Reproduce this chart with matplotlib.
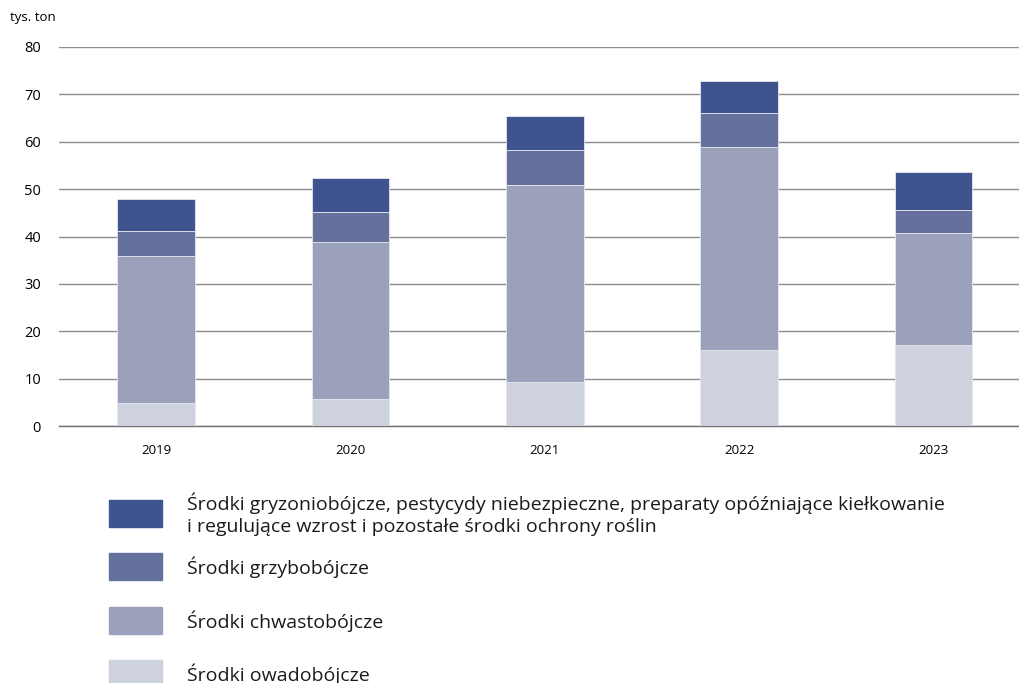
import numpy as np
import matplotlib.pyplot as plt
from matplotlib.patches import Rectangle

years = ['2019', '2020', '2021', '2022', '2023']
owadobojcze = [4.8, 5.8, 9.2, 16.0, 17.0]
chwastobojcze = [31.1, 33.1, 41.7, 42.9, 23.8]
grzybobojcze = [5.3, 6.3, 7.4, 7.1, 4.7]
pozostale = [6.7, 7.2, 7.2, 6.9, 8.2]

series = [owadobojcze, chwastobojcze, grzybobojcze, pozostale]
colors = ['#cdd2de', '#9ca1bb', '#65719c', '#3f548f']
labels = ['Środki owadobójcze',
          'Środki chwastobójcze',
          'Środki grzybobójcze',
          'Środki gryzoniobójcze, pestycydy niebezpieczne, preparaty opóźniające kiełkowanie\n'
          'i regulujące wzrost i pozostałe środki ochrony roślin']

W, H = 1019, 683
fig = plt.figure(figsize=(W / 100, H / 100), dpi=100)
ax = fig.add_axes([59 / W, 1 - 426 / H, (W - 59) / W, (426 - 47) / H])

font = ['Open Sans', 'DejaVu Sans']

x = np.arange(len(years))
bottom = np.zeros(len(years))
for vals, c in zip(series, colors):
    ax.bar(x, vals, width=0.4, bottom=bottom, color=c, edgecolor='#e6e8ef',
           linewidth=0.6, zorder=3)
    bottom += np.array(vals)

ax.set_ylim(0, 80)
ax.set_xlim(-0.5, 4.44)
ax.set_yticks(range(0, 81, 10))
ax.set_xticks(x)
ax.set_xticklabels(years, family=font, fontsize=9.5)
ax.set_yticklabels([str(v) for v in range(0, 81, 10)], family=font, fontsize=10.5)
ax.yaxis.grid(True, color='#8c8c8c', linewidth=1.0, zorder=0)
ax.tick_params(axis='both', length=0)
ax.tick_params(axis='y', pad=13)
ax.tick_params(axis='x', pad=13)
for s in ['top', 'right', 'left']:
    ax.spines[s].set_visible(False)
ax.spines['bottom'].set_color('#707070')
ax.spines['bottom'].set_linewidth(1.0)

fig.text(10 / W, 1 - 17 / H, 'tys. ton', family=font, fontsize=9.5, va='center')

# legend, drawn by hand (top item first)
leg_y = [513, 566, 620, 673]
for i, (lab, c) in enumerate(zip(labels[::-1], colors[::-1])):
    yc = leg_y[i]
    fig.add_artist(Rectangle((109 / W, 1 - (yc + 13.5) / H), 53 / W, 27 / H,
                             transform=fig.transFigure, color=c))
    fig.text(187 / W, 1 - (yc + 1) / H, lab, family=font, fontsize=14,
             va='center', ha='left', linespacing=1.3, color='#1a1a1a')

fig.savefig('out.png', dpi=100)
